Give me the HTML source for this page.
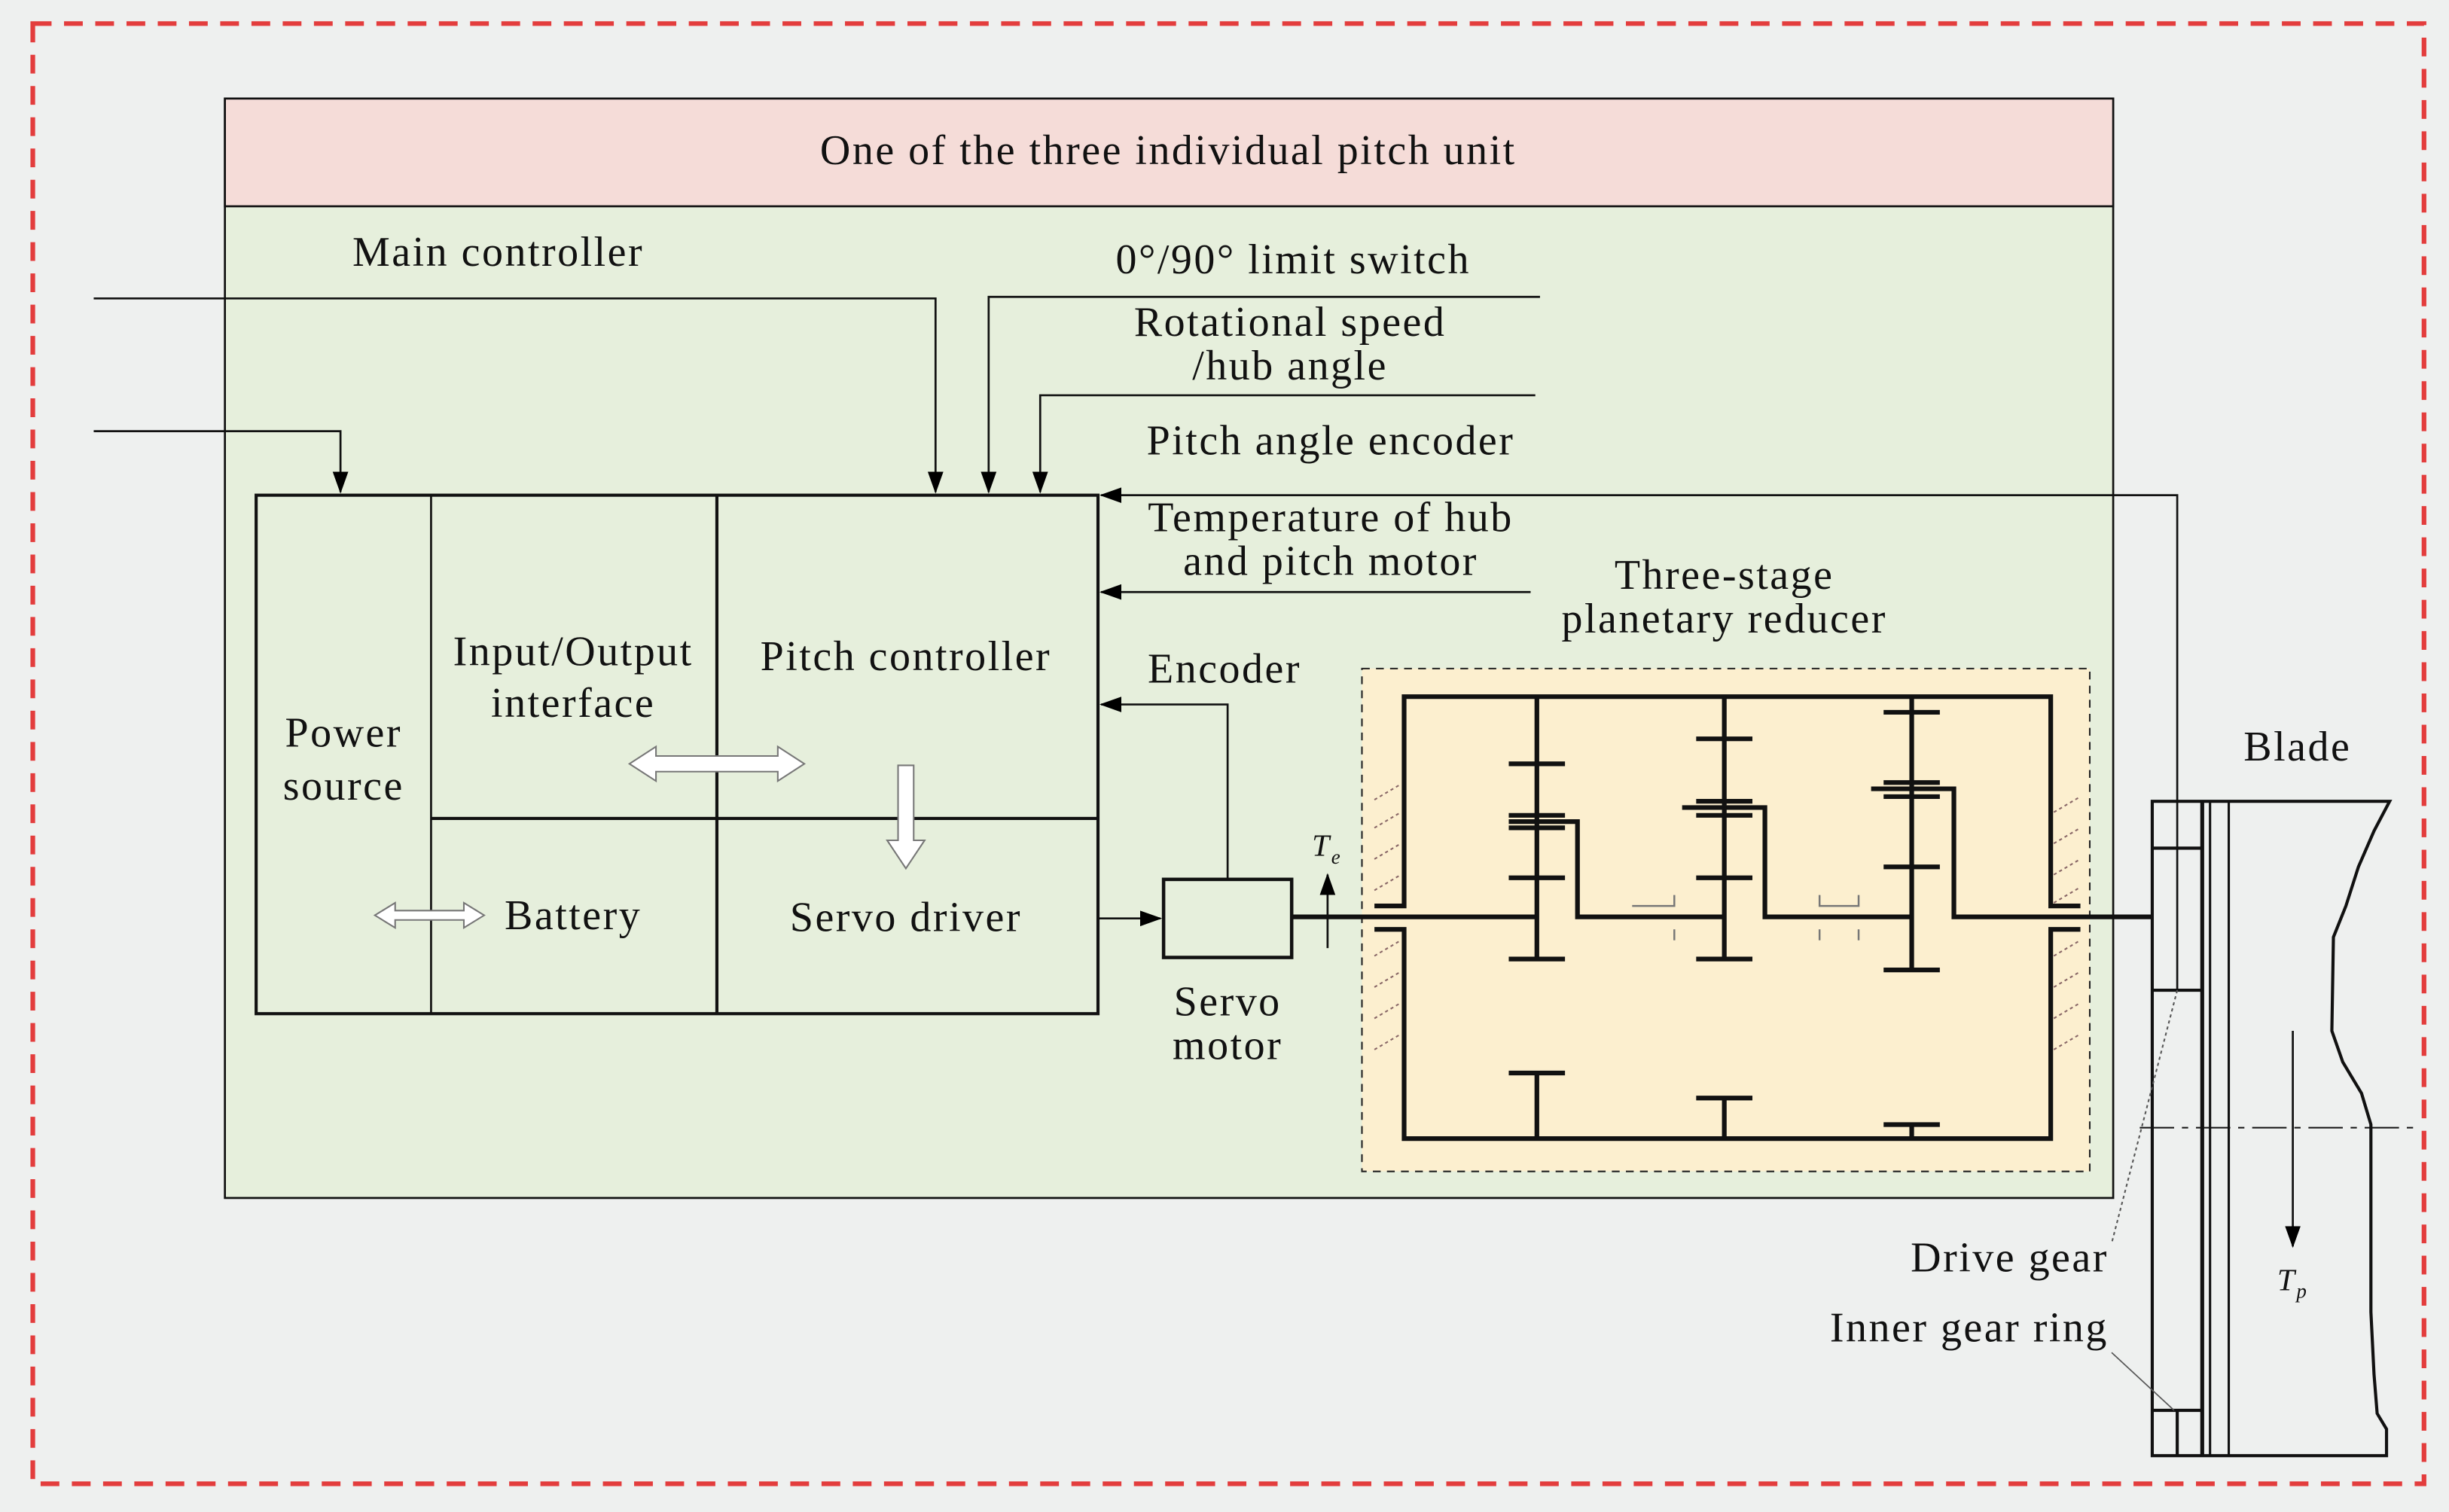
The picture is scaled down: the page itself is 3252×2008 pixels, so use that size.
<!DOCTYPE html>
<html><head><meta charset="utf-8"><style>
html,body{margin:0;padding:0;background:#eef0ef;}
svg{display:block;}
text{font-family:"Liberation Serif",serif;font-size:27px;letter-spacing:1.2px;fill:#111;}
</style></head><body>
<svg width="3252" height="2008" viewBox="0 0 1568 968" xmlns="http://www.w3.org/2000/svg">
<defs>
<marker id="ah" markerWidth="14" markerHeight="12" refX="13" refY="6" orient="auto" markerUnits="userSpaceOnUse"><path d="M0,1 L14,6 L0,11 Z" fill="#000"/></marker>
</defs>
<rect x="0" y="0" width="1568" height="968" fill="#eef0ef"/>
<rect x="21" y="15" width="1531" height="935" fill="none" stroke="#e33d3d" stroke-width="3" stroke-dasharray="12,8"/>
<rect x="144" y="63" width="1209" height="704" fill="#e6efdc" stroke="#111" stroke-width="1.3"/>
<rect x="144" y="63" width="1209" height="69" fill="#f5dcd8" stroke="#111" stroke-width="1.3"/>
<text x="748" y="105" text-anchor="middle">One of the three individual pitch unit</text>
<rect x="872" y="428" width="466" height="322" fill="#fcefcf" stroke="#222" stroke-width="1" stroke-dasharray="5,4"/>
<g stroke="#111" stroke-width="2" fill="none">
<rect x="164" y="317" width="539" height="332"/>
<line x1="276" y1="317" x2="276" y2="649" stroke-width="1.3"/>
<line x1="459" y1="317" x2="459" y2="649"/>
<line x1="276" y1="524" x2="703" y2="524"/>
</g>
<text x="220" y="478" text-anchor="middle">Power</text>
<text x="220" y="512" text-anchor="middle">source</text>
<text x="367" y="426" text-anchor="middle">Input/Output</text>
<text x="367" y="459" text-anchor="middle">interface</text>
<text x="580" y="429" text-anchor="middle">Pitch controller</text>
<text x="367" y="595" text-anchor="middle">Battery</text>
<text x="580" y="596" text-anchor="middle">Servo driver</text>
<g fill="#fff" stroke="#777" stroke-width="1">
<path d="M403,489 L420,478 L420,484 L498,484 L498,478 L515,489 L498,500 L498,494 L420,494 L420,500 Z"/>
<path d="M575,490 L585,490 L585,538 L592,538 L580,556 L568,538 L575,538 Z"/>
<path d="M240,586 L253,578 L253,583 L297,583 L297,578 L310,586 L297,594 L297,589 L253,589 L253,594 Z"/>
</g>
<g stroke="#111" stroke-width="1.3" fill="none">
<polyline points="60,191 599,191 599,315" marker-end="url(#ah)"/>
<polyline points="60,276 218,276 218,315" marker-end="url(#ah)"/>
<polyline points="986,190 633,190 633,315" marker-end="url(#ah)"/>
<polyline points="983,253 666,253 666,315" marker-end="url(#ah)"/>
<polyline points="1394,634 1394,317 705,317" marker-end="url(#ah)"/>
<polyline points="980,379 705,379" marker-end="url(#ah)"/>
<polyline points="786,563 786,451 705,451" marker-end="url(#ah)"/>
<polyline points="703,588 743,588" marker-end="url(#ah)"/>
<line x1="850" y1="607" x2="850" y2="560" marker-end="url(#ah)"/>
</g>
<text x="828" y="175" text-anchor="middle">0°/90° limit switch</text>
<text x="319" y="170" text-anchor="middle">Main controller</text>
<text x="826" y="215" text-anchor="middle">Rotational speed</text>
<text x="826" y="243" text-anchor="middle">/hub angle</text>
<text x="852" y="291" text-anchor="middle">Pitch angle encoder</text>
<text x="852" y="340" text-anchor="middle">Temperature of hub</text>
<text x="852" y="368" text-anchor="middle">and pitch motor</text>
<text x="784" y="437" text-anchor="middle">Encoder</text>
<text x="1104" y="377" text-anchor="middle">Three-stage</text>
<text x="1104" y="405" text-anchor="middle">planetary reducer</text>
<rect x="745" y="563" width="82" height="50" fill="none" stroke="#111" stroke-width="2.2"/>
<text x="786" y="650" text-anchor="middle">Servo</text>
<text x="786" y="678" text-anchor="middle">motor</text>
<text x="840" y="548" style="font-size:20px;font-style:italic">T<tspan style="font-size:13px" dy="5">e</tspan></text>
<g stroke="#111" stroke-width="3" fill="none" stroke-linecap="butt">
<polyline points="880,580 899,580 899,446 1313,446 1313,580 1332,580"/>
<polyline points="880,595 899,595 899,729 1313,729 1313,595 1332,595"/>
<line x1="827" y1="587" x2="984" y2="587"/>
<polyline points="966,526 1010,526 1010,587 1104,587"/>
<polyline points="1077,517 1130,517 1130,587 1224,587"/>
<polyline points="1198,505 1251,505 1251,587 1394,587"/>
<line x1="984" y1="446" x2="984" y2="614"/>
<line x1="1104" y1="446" x2="1104" y2="614"/>
<line x1="1224" y1="446" x2="1224" y2="621"/>
<line x1="966" y1="489" x2="1002" y2="489"/><line x1="966" y1="522" x2="1002" y2="522"/><line x1="966" y1="530" x2="1002" y2="530"/><line x1="966" y1="562" x2="1002" y2="562"/><line x1="966" y1="614" x2="1002" y2="614"/>
<line x1="1086" y1="473" x2="1122" y2="473"/><line x1="1086" y1="513" x2="1122" y2="513"/><line x1="1086" y1="522" x2="1122" y2="522"/><line x1="1086" y1="562" x2="1122" y2="562"/><line x1="1086" y1="614" x2="1122" y2="614"/>
<line x1="1206" y1="456" x2="1242" y2="456"/><line x1="1206" y1="501" x2="1242" y2="501"/><line x1="1206" y1="510" x2="1242" y2="510"/><line x1="1206" y1="555" x2="1242" y2="555"/><line x1="1206" y1="621" x2="1242" y2="621"/>
<line x1="984" y1="687" x2="984" y2="729"/><line x1="966" y1="687" x2="1002" y2="687"/>
<line x1="1104" y1="703" x2="1104" y2="729"/><line x1="1086" y1="703" x2="1122" y2="703"/>
<line x1="1224" y1="720" x2="1224" y2="729"/><line x1="1206" y1="720" x2="1242" y2="720"/>
</g>
<g stroke="#777" stroke-width="1.2" fill="none">
<polyline points="1045,580 1072,580 1072,573"/><line x1="1072" y1="595" x2="1072" y2="602"/>
<polyline points="1165,573 1165,580 1190,580 1190,573"/><line x1="1165" y1="595" x2="1165" y2="602"/><line x1="1190" y1="595" x2="1190" y2="602"/>
</g>
<g stroke="#866" stroke-width="1" stroke-dasharray="2,2">
<line x1="880" y1="530" x2="897" y2="520"/><line x1="880" y1="550" x2="897" y2="540"/><line x1="880" y1="570" x2="897" y2="560"/><line x1="880" y1="512" x2="897" y2="502"/>
<line x1="880" y1="612" x2="897" y2="602"/><line x1="880" y1="632" x2="897" y2="622"/><line x1="880" y1="652" x2="897" y2="642"/><line x1="880" y1="672" x2="897" y2="662"/>
<line x1="1315" y1="520" x2="1332" y2="510"/><line x1="1315" y1="540" x2="1332" y2="530"/><line x1="1315" y1="560" x2="1332" y2="550"/><line x1="1315" y1="578" x2="1332" y2="568"/>
<line x1="1315" y1="612" x2="1332" y2="602"/><line x1="1315" y1="632" x2="1332" y2="622"/><line x1="1315" y1="652" x2="1332" y2="642"/><line x1="1315" y1="672" x2="1332" y2="662"/>
</g>
<g stroke="#111" stroke-width="2" fill="none">
<path d="M1378,513 L1530,513 L1520,532 L1510,555 L1502,580 L1494,600 L1493,660 L1500,680 L1512,700 L1518,720 L1518,840 L1520,880 L1522,905 L1528,915 L1528,932 L1378,932 Z" fill="#eef0ef"/>
<line x1="1410" y1="513" x2="1410" y2="932" stroke-width="2.5"/>
<line x1="1415" y1="513" x2="1415" y2="932" stroke-width="1.5"/>
<line x1="1427" y1="513" x2="1427" y2="932" stroke-width="1.5"/>
<line x1="1378" y1="543" x2="1410" y2="543"/>
<line x1="1378" y1="634" x2="1410" y2="634"/>
<line x1="1378" y1="903" x2="1410" y2="903"/>
<line x1="1394" y1="903" x2="1394" y2="932"/>
</g>
<line x1="1394" y1="513" x2="1394" y2="634" stroke="#111" stroke-width="1.3"/>
<line x1="1370" y1="722" x2="1545" y2="722" stroke="#111" stroke-width="1" stroke-dasharray="22,5,4,5"/>
<line x1="1468" y1="660" x2="1468" y2="798" stroke="#111" stroke-width="1.3" marker-end="url(#ah)"/>
<text x="1458" y="826" style="font-size:20px;font-style:italic">T<tspan style="font-size:13px" dy="5">p</tspan></text>
<text x="1471" y="487" text-anchor="middle">Blade</text>
<line x1="1394" y1="634" x2="1352" y2="796" stroke="#555" stroke-width="1" stroke-dasharray="2,2"/>
<line x1="1352" y1="866" x2="1392" y2="903" stroke="#555" stroke-width="0.8"/>
<text x="1350" y="814" text-anchor="end">Drive gear</text>
<text x="1350" y="859" text-anchor="end">Inner gear ring</text>
</svg>
</body></html>
